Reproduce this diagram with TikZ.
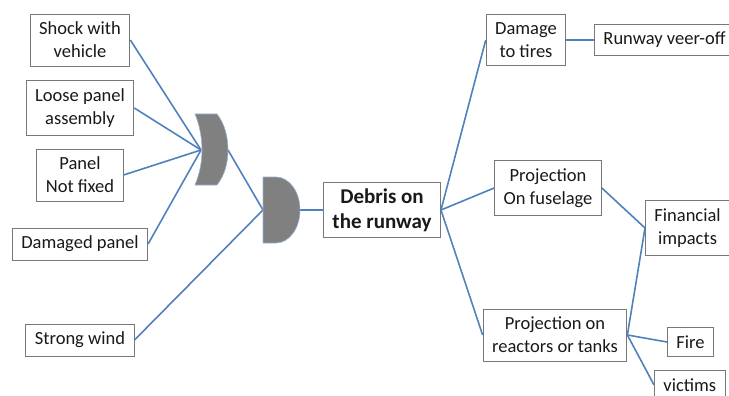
\documentclass[tikz,border=0pt]{standalone}
\usepackage{fontspec}
\setmainfont{Carlito}
\usetikzlibrary{arrows.meta,calc,positioning}
\definecolor{linkblue}{RGB}{79,129,189}
\definecolor{gategray}{RGB}{128,128,128}
\definecolor{boxgray}{RGB}{120,120,120}
\definecolor{ink}{RGB}{25,25,25}

\begin{document}
\begin{tikzpicture}[x=1pt,y=-1pt,
  box/.style={draw=boxgray,line width=.9pt,fill=white,align=center,text=ink,
    font=\fontsize{18.5}{23}\selectfont,inner xsep=9pt,inner ysep=8pt},
  link/.style={linkblue,line width=1.6pt},
  gate/.style={fill=gategray,draw=linkblue!60,line width=.6pt}]
\useasboundingbox (0,0) rectangle (729,396);
\node[box] (shock) at (80,40) {Shock with\\vehicle};
\node[box] (loose) at (80,108) {Loose panel\\assembly};
\node[box] (notfixed) at (80,175) {Panel\\Not fixed};
\node[box] (damaged) at (80,244) {Damaged panel};
\node[box] (wind) at (80,340) {Strong wind};
\node[box,font=\fontsize{21}{25}\selectfont\bfseries,inner ysep=6pt] (debris) at (382,210) {Debris on\\the runway};
\node[box] (tires) at (526,40) {Damage\\to tires};
\node[box,anchor=west] (veer) at (594,40) {Runway veer-off};
\node[box] (fuselage) at (548,188) {Projection\\On fuselage};
\node[box,anchor=west] (financial) at (645,228) {Financial\\impacts};
\node[box] (reactors) at (555,335) {Projection on\\reactors or tanks};
\node[box,anchor=west] (fire) at (667,342) {Fire};
\node[box,anchor=north west] (victims) at (654,370) {victims};
\coordinate (g1in) at (201,150);
\coordinate (g1out) at (228,150);
\coordinate (g2in) at (263,210);
\coordinate (g2out) at (300,210);
\foreach \n in {shock,loose,notfixed,damaged} \draw[link] (\n.east)--(g1in);
\draw[link] (wind.east)--(g2in);
\draw[link] (g1out)--(g2in);
\draw[link] (g2out)--(debris.west);
\foreach \n in {tires,fuselage,reactors} \draw[link] (debris.east)--(\n.west);
\draw[link] (tires.east)--(veer.west);
\draw[link] (fuselage.east)--(financial.west);
\foreach \n in {financial,fire,victims} \draw[link] (reactors.east)--(\n.west);
\draw[gate] (195,114) -- (217,114) .. controls (225,124) and (228,138) .. (228,150)
  .. controls (228,162) and (225,175) .. (217,185) -- (195,185)
  .. controls (200,173) and (202,161) .. (202,150) .. controls (202,139) and (200,126) .. (195,114) -- cycle;
\draw[gate] (263,177) -- (276,177) arc[start angle=-90,end angle=90,x radius=24,y radius=33] -- (263,243) -- cycle;
\end{tikzpicture}
\end{document}
